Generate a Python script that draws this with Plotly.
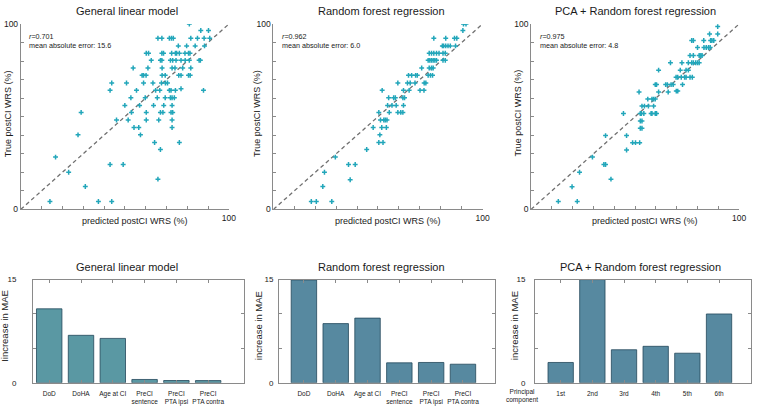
import plotly.graph_objects as go

W, H = 760, 407

# ---------------- data ----------------
identity = [0, 100]

glm_pred = [81.0, 86.5, 90.2,
            65.9, 67.8, 71.4, 72.4, 73.3, 81.7, 84.9, 88.1, 90.8,
            75.7, 79.7, 83.8, 88.3,
            60.3, 61.4, 67.8, 68.6, 72.5, 74.3, 74.9, 76.2, 78.9, 80.6, 81.3,
            62.7, 67.1, 67.8, 71.9, 73.0, 74.6, 77.0, 79.0, 81.0, 85.7, 86.3,
            54.0, 61.1, 67.9, 72.7, 74.1, 77.8, 81.7,
            58.3, 59.0, 60.2, 67.9, 69.4, 75.9, 77.0, 80.6, 81.4,
            43.7, 50.8, 59.0, 63.5, 67.6, 69.5, 70.5,
            42.9, 55.6, 64.8, 66.8, 71.4, 72.2, 74.3, 77.0, 87.8,
            52.9, 59.8, 65.6, 69.4, 71.9, 72.7, 73.8,
            50.0, 57.1, 63.8, 68.7, 72.7,
            29.0, 53.2, 60.3, 67.1, 68.3, 72.2, 73.0,
            46.0, 51.6, 60.3, 66.3, 72.7,
            54.4, 56.7, 72.7,
            27.5, 57.5,
            64.3, 76.2,
            67.1, 16.7, 23.0, 42.9, 49.2, 65.9, 31.0,
            14.0, 37.3, 43.7]
glm_true = [100, 96.5, 96.5,
            92.3, 92.3, 92.3, 92.3, 92.3, 92.3, 92.3, 92.3, 92.3,
            88.2, 88.2, 88.2, 88.2,
            84.2, 84.2, 84.2, 84.2, 84.2, 84.2, 84.2, 84.2, 84.2, 84.2, 84.2,
            80.4, 80.4, 80.4, 80.4, 80.4, 80.4, 80.4, 80.4, 80.4, 80.4, 80.4,
            76.3, 76.3, 76.3, 76.3, 76.3, 76.3, 76.3,
            72.3, 72.3, 72.3, 72.3, 72.3, 72.3, 72.3, 72.3, 72.3,
            68.2, 68.2, 68.2, 68.2, 68.2, 68.2, 68.2,
            64.2, 64.2, 64.2, 64.2, 64.2, 64.2, 64.2, 65.1, 64.2,
            60.2, 60.2, 60.2, 60.2, 60.2, 60.2, 60.2,
            56.1, 56.1, 56.1, 56.1, 56.1,
            52.3, 52.3, 52.3, 52.3, 52.3, 52.3, 52.3,
            48.2, 48.2, 48.2, 48.2, 48.2,
            44.2, 44.2, 44.2,
            40.2, 40.2,
            36.1, 36.1,
            32.3, 28.2, 20.0, 24.2, 24.2, 16.3, 12.3,
            4.2, 4.2, 4.2]

rf_pred = [90.9, 92.1, 90.6,
           76.7, 82.4, 86.6, 87.7,
           80.8, 81.4, 82.4, 83.5, 84.6, 87.1,
           74.5, 75.6, 76.7, 78.0, 79.2, 81.1, 82.2,
           74.0, 74.8, 75.6, 76.4, 77.2, 78.0, 81.1, 82.2,
           70.9, 74.5, 75.6, 76.4,
           64.6, 66.1, 68.0, 68.8, 74.0, 75.1, 76.1,
           59.5, 64.1, 65.4, 67.7, 72.1, 72.9,
           52.0, 62.2, 64.9, 70.1, 72.0,
           55.1, 57.5, 58.3, 61.9, 62.7,
           54.6, 56.7, 58.7, 62.2,
           50.4, 55.4, 59.5, 60.9, 61.9,
           51.2, 52.8, 53.5, 54.3,
           47.7, 51.8, 54.0,
           50.9, 50.4, 52.4, 44.6, 29.6, 35.9, 39.1, 24.4, 36.7, 23.6,
           18.1, 20.5, 27.9]
rf_true = [100, 100, 96.5,
           92.3, 92.3, 92.3, 92.3,
           88.2, 88.2, 88.2, 88.2, 88.2, 88.2,
           84.2, 84.2, 84.2, 84.2, 84.2, 84.2, 84.2,
           80.4, 80.4, 80.4, 80.4, 80.4, 80.4, 80.4, 80.4,
           76.3, 76.3, 76.3, 76.3,
           72.3, 72.3, 72.3, 72.3, 72.3, 72.3, 72.3,
           68.2, 68.2, 68.2, 68.2, 68.2, 68.2,
           64.2, 64.2, 64.2, 64.2, 64.2,
           60.2, 60.2, 60.2, 60.2, 60.2,
           56.1, 56.1, 56.1, 56.1,
           52.3, 52.3, 52.3, 52.3, 52.3,
           48.2, 48.2, 48.2, 48.2,
           44.2, 44.2, 44.2,
           40.2, 36.1, 36.1, 32.3, 28.2, 24.2, 24.2, 20.0, 16.0, 12.3,
           4.2, 4.2, 4.2]

pca_pred = [89.7, 85.8, 89.7,
            77.2, 78.0, 83.0, 86.3, 86.9, 87.8,
            80.0, 83.1, 84.2, 85.3, 86.1,
            76.4, 78.0, 80.8, 81.6, 82.2,
            67.0, 72.5, 75.6, 77.2, 78.0, 79.1, 80.0, 80.8,
            61.3, 71.7, 74.5, 75.6,
            69.7, 70.5, 72.2, 73.8, 74.5, 76.4, 77.5,
            59.7, 60.3, 64.7, 65.5, 67.3, 68.3, 72.8,
            51.9, 61.3, 65.9, 69.8, 70.5,
            56.1, 58.1, 58.9, 59.7,
            53.3, 54.5, 56.4, 58.9,
            44.4, 52.5, 53.0, 54.2, 57.7, 58.1, 59.7, 60.3,
            52.5, 53.3, 52.5, 53.3,
            35.8, 45.9, 48.8, 50.2, 52.2,
            45.9, 29.5, 35.0, 35.8, 23.3, 38.4, 19.7, 13.1, 22.2]
pca_true = [98.6, 94.6, 94.6,
            91.1, 91.1, 91.1, 91.1, 91.1, 91.1,
            87.3, 87.3, 87.3, 87.3, 87.3,
            83.0, 83.0, 83.0, 83.0, 83.0,
            79.1, 79.1, 79.1, 79.1, 79.1, 79.1, 79.1, 79.1,
            75.1, 75.1, 75.1, 75.1,
            71.3, 71.3, 71.3, 71.3, 71.3, 71.3, 71.3,
            67.3, 67.3, 67.3, 67.3, 67.3, 67.3, 67.3,
            63.3, 63.3, 63.3, 63.8, 63.8,
            59.5, 59.5, 59.5, 59.5,
            55.7, 55.7, 55.7, 55.7,
            51.7, 51.7, 51.7, 51.7, 51.7, 51.7, 51.7, 51.7,
            47.7, 47.7, 43.8, 43.8,
            39.8, 39.8, 36.0, 36.0, 36.0,
            32.0, 28.2, 24.2, 24.2, 20.0, 16.3, 12.2, 4.3, 4.3]

features = ["DoD", "DoHA", "Age at CI", "PreCI<br>sentence", "PreCI<br>PTA ipsi", "PreCI<br>PTA contra"]
components = ["1st", "2nd", "3rd", "4th", "5th", "6th"]
glm_mae = [10.75, 6.9, 6.45, 0.48, 0.33, 0.32]
rf_mae = [14.95, 8.6, 9.4, 2.9, 2.95, 2.7]
pca_mae = [2.95, 15.0, 4.8, 5.3, 4.3, 10.0]
positions = [1, 2, 3, 4, 5, 6]

scatter_titles = ["General linear model", "Random forest regression", "PCA + Random forest regression"]
stats = [("0.701", "15.6"), ("0.962", "6.0"), ("0.975", "4.8")]

# ---------------- style ----------------
FONT = "Liberation Sans, Arial, sans-serif"
TXT = "#1a1a1a"
AX = "#8a8a8a"
MARKER = "#22a6ba"
BAR_GLM = "#5a98a3"
BAR_RF = "#5789a0"
EDGE = "#23475a"


def dx(p):
    return p / W


def dy(p):
    return 1 - p / H


top_x = [(21, 231), (276, 487), (536, 746)]
top_y = (19.5, 209.5)
bot_x = [(33.3, 246.7), (281.7, 500), (540, 758)]
bot_y = (281.5, 387.3)
bot_ranges = [[0.49, 7.14], [0.22, 7.02], [0.19, 7.01]]
bot_standoff = [14, 3, 7]

fig = go.Figure()

scatter_data = [(glm_pred, glm_true), (rf_pred, rf_true), (pca_pred, pca_true)]
for i, (px_, py_) in enumerate(scatter_data):
    xa = "x" if i == 0 else f"x{i+1}"
    ya = "y" if i == 0 else f"y{i+1}"
    fig.add_trace(go.Scatter(x=identity, y=identity, mode="lines",
                             line=dict(color="#707070", width=1.3, dash="4px,3px"),
                             xaxis=xa, yaxis=ya, showlegend=False, hoverinfo="skip"))
    fig.add_trace(go.Scatter(x=px_, y=py_, mode="markers",
                             marker=dict(symbol="cross-thin", size=3.5,
                                         line=dict(width=1.5, color=MARKER)),
                             xaxis=xa, yaxis=ya, showlegend=False))

bar_sets = [(features, glm_mae, BAR_GLM), (features, rf_mae, BAR_RF), (components, pca_mae, BAR_RF)]
for i, (cats, vals, col) in enumerate(bar_sets):
    n = i + 4
    fig.add_trace(go.Bar(x=positions, y=vals, width=0.8,
                         marker=dict(color=col, line=dict(color=EDGE, width=0.8)),
                         xaxis=f"x{n}", yaxis=f"y{n}", showlegend=False))

layout = dict(width=W, height=H, margin=dict(l=0, r=0, t=0, b=0),
              paper_bgcolor="white", plot_bgcolor="white",
              font=dict(family=FONT, color=TXT), bargap=0.2)

tick10 = list(range(0, 101, 10))
for i in range(3):
    s = "" if i == 0 else str(i + 1)
    layout[f"xaxis{s}"] = dict(domain=[dx(top_x[i][0]), dx(top_x[i][1])], range=[0, 100],
                               anchor=f"y{s}", showline=True, linecolor=AX, linewidth=1,
                               ticks="inside", ticklen=3, tickcolor=AX,
                               tickvals=tick10, ticktext=[""] * 10 + ["100"],
                               tickfont=dict(size=8.5, color=TXT),
                               showgrid=False, zeroline=False, mirror=False)
    layout[f"yaxis{s}"] = dict(domain=[dy(top_y[1]), dy(top_y[0])], range=[0, 100],
                               anchor=f"x{s}", showline=True, linecolor=AX, linewidth=1,
                               ticks="inside", ticklen=3, tickcolor=AX,
                               tickvals=tick10, ticktext=["0"] + [""] * 9 + ["100"],
                               tickfont=dict(size=8.5, color=TXT),
                               showgrid=False, zeroline=False, mirror=False)
for i in range(3):
    n = i + 4
    cats = features if i < 2 else components
    layout[f"xaxis{n}"] = dict(domain=[dx(bot_x[i][0]), dx(bot_x[i][1])], range=bot_ranges[i],
                               anchor=f"y{n}", showline=True, linecolor=AX, linewidth=1,
                               mirror="allticks", ticks="inside", ticklen=3, tickcolor=AX,
                               tickvals=positions, ticktext=cats, ticklabelstandoff=4,
                               tickfont=dict(size=6.5, color=TXT),
                               showgrid=False, zeroline=False)
    layout[f"yaxis{n}"] = dict(domain=[dy(bot_y[1]), dy(bot_y[0])], range=[0, 15],
                               anchor=f"x{n}", showline=True, linecolor=AX, linewidth=1,
                               mirror="allticks", ticks="inside", ticklen=3, tickcolor=AX,
                               tickvals=[0, 5, 10, 15], ticktext=["0", "", "", "15"],
                               tickfont=dict(size=8, color=TXT), ticklabelstandoff=bot_standoff[i],
                               showgrid=False, zeroline=False)

ann = []
top_title_x = [128.3, 385, 641.7]
bot_title_x = [128.3, 385, 646.7]
ylab_off = [13, 16, 13]
for i in range(3):
    s = "" if i == 0 else str(i + 1)
    ann.append(dict(text=scatter_titles[i], x=dx(top_title_x[i]), y=dy(6), xref="paper", yref="paper",
                    xanchor="center", yanchor="middle", showarrow=False, font=dict(size=11)))
    ann.append(dict(text=scatter_titles[i], x=dx(bot_title_x[i]), y=dy(269), xref="paper", yref="paper",
                    xanchor="center", yanchor="middle", showarrow=False, font=dict(size=11)))
    ann.append(dict(text=f"<i>r</i>={stats[i][0]}", x=0.032, y=0.934,
                    xref=f"x{s} domain", yref=f"y{s} domain", xanchor="left", yanchor="middle",
                    showarrow=False, font=dict(size=7.2)))
    ann.append(dict(text=f"mean absolute error: {stats[i][1]}", x=0.032, y=0.882,
                    xref=f"x{s} domain", yref=f"y{s} domain", xanchor="left", yanchor="middle",
                    showarrow=False, font=dict(size=7.2)))
    ann.append(dict(text="predicted postCI WRS (%)", x=dx(top_x[i][0] + 0.55 * (top_x[i][1] - top_x[i][0])),
                    y=dy(221), xref="paper", yref="paper", xanchor="center", yanchor="middle",
                    showarrow=False, font=dict(size=9)))
    ann.append(dict(text="True postCI WRS (%)", x=dx(top_x[i][0] - ylab_off[i]), y=dy(111),
                    xref="paper", yref="paper", xanchor="center", yanchor="middle",
                    textangle=-90, showarrow=False, font=dict(size=9)))

bot_ylab = ["Iincrease in MAE", "increase in MAE", "increase in MAE"]
bot_ylab_x = [5, 261.7, 520]
for i in range(3):
    ann.append(dict(text=bot_ylab[i], x=dx(bot_ylab_x[i]), y=dy(329), xref="paper", yref="paper",
                    xanchor="center", yanchor="middle", textangle=-90, showarrow=False,
                    font=dict(size=9.5)))
ann.append(dict(text="Principal<br>component", x=dx(527), y=dy(401), xref="paper", yref="paper",
                xanchor="center", yanchor="middle", showarrow=False, font=dict(size=6.5)))

layout["annotations"] = ann
fig.update_layout(**layout)
fig.write_html("out.html", config={"displayModeBar": False},
               post_script="document.body.style.margin='0';document.body.style.overflow='hidden';")
